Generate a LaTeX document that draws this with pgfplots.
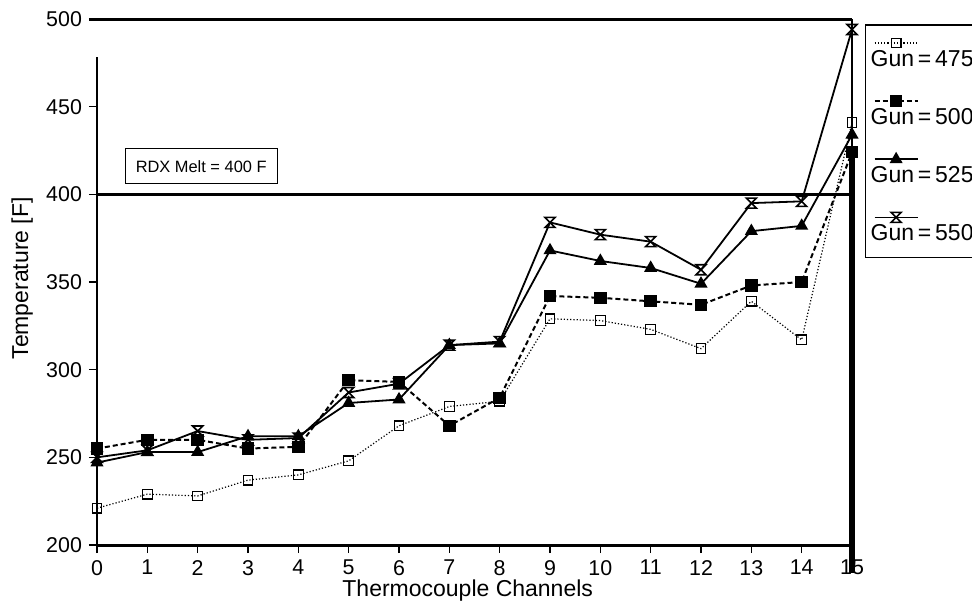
\documentclass[border=0pt]{standalone}
\usepackage{fontspec}
\setmainfont{Liberation Sans}
\usepackage{pgfplots}
\usepackage{pgfplotstable}
\pgfplotsset{compat=1.18}
\usetikzlibrary{calc}

% open hourglass marker (bars top and bottom, crossed sides)
\pgfdeclareplotmark{hourglass}{%
  \pgfpathmoveto{\pgfqpoint{-\pgfplotmarksize}{\pgfplotmarksize}}%
  \pgfpathlineto{\pgfqpoint{\pgfplotmarksize}{\pgfplotmarksize}}%
  \pgfpathlineto{\pgfqpoint{-\pgfplotmarksize}{-\pgfplotmarksize}}%
  \pgfpathlineto{\pgfqpoint{\pgfplotmarksize}{-\pgfplotmarksize}}%
  \pgfpathclose
  \pgfusepathqstroke
}

\pgfplotstableread{
ch g475 g500 g525 g550
0  221 255 247 250
1  229 260 253 254
2  228 260 253 265
3  237 255 262 260
4  240 256 262 261
5  248 294 281 287
6  268 293 283 292
7  279 268 314 314
8  282 284 315 316
9  329 342 368 384
10 328 341 362 377
11 323 339 358 373
12 312 337 349 357
13 339 348 379 395
14 317 350 382 396
15 441 424 434 494
}\temps

\pgfplotsset{
  s475/.style={black, line width=0.6pt, densely dotted, mark=square, mark size=2.4pt,
    mark options={solid, fill=white, line width=0.6pt}},
  s500/.style={black, line width=1pt, dash pattern=on 2.5pt off 1.5pt, mark=square*, mark size=2.6pt,
    mark options={solid}},
  s525/.style={black, line width=0.9pt, mark=triangle*, mark size=2.9pt, mark options={solid}},
  s550/.style={black, line width=0.9pt, mark=hourglass, mark size=2.5pt,
    mark options={solid, line width=0.8pt}},
}

\begin{document}
\begin{tikzpicture}
\begin{axis}[
  scale only axis,
  width=377.5pt, height=263pt,
  xmin=0, xmax=15, ymin=200, ymax=500,
  xtick={0,1,...,15}, ytick={200,250,...,500},
  tick align=outside, tick pos=left,
  major tick length=4pt,
  tick style={black, line width=0.8pt},
  axis line style={draw=none},
  ticklabel style={font=\fontsize{10.7}{13}\selectfont},
  /pgf/number format/assume math mode=true,
  xlabel={Thermocouple Channels},
  ylabel={Temperature [F]},
  label style={font=\fontsize{11.5}{13}\selectfont},
  xlabel style={at={(axis description cs:0.491,-0.0875)}, anchor=center},
  ylabel style={at={(axis description cs:-0.099,0.507)}, anchor=center},
  clip=false,
  legend image code/.code={\draw[mark repeat=2,mark phase=2,#1]
    plot coordinates {(0pt,0pt) (10.75pt,0pt) (21.5pt,0pt)};},
  legend style={at={(axis description cs:1.017,0.99)}, anchor=north west,
    draw=black, line width=0.8pt, font=\fontsize{11.5}{13}\selectfont,
    nodes={inner sep=1pt},
    cells={anchor=base west}, row sep=0pt, inner xsep=4pt, inner ysep=6pt},
]
\addplot[black, line width=1.5pt, forget plot] coordinates {(0,400) (14.95,400)};
\addplot[s475, forget plot] table[x=ch, y=g475] {\temps};
\addplot[s500, forget plot] table[x=ch, y=g500] {\temps};
\addplot[s525, forget plot] table[x=ch, y=g525] {\temps};
\addplot[s550, forget plot] table[x=ch, y=g550] {\temps};

\addlegendimage{s475}\addlegendentry{\rule{0pt}{2pt}}
\addlegendimage{empty legend}\addlegendentry{\hspace*{-25pt}Gun\,=\,475}
\addlegendimage{s500}\addlegendentry{\rule{0pt}{14pt}}
\addlegendimage{empty legend}\addlegendentry{\hspace*{-25pt}Gun\,=\,500}
\addlegendimage{s525}\addlegendentry{\rule{0pt}{14pt}}
\addlegendimage{empty legend}\addlegendentry{\hspace*{-25pt}Gun\,=\,525}
\addlegendimage{s550}\addlegendentry{\rule{0pt}{14pt}}
\addlegendimage{empty legend}\addlegendentry{\hspace*{-25pt}Gun\,=\,550}

\node[draw, line width=0.6pt, minimum width=76pt, minimum height=17.5pt,
  font=\fontsize{8.2}{10}\selectfont] at (axis cs:2.07,416) {RDX Melt = 400 F};
\end{axis}
% frame
\draw[line width=1.5pt] (current axis.south west) -- (current axis.south east);
\draw[line width=1.5pt] ($(current axis.north west)+(-4pt,0)$) -- (current axis.north east);
\draw[line width=1.1pt] (current axis.south west) -- ($(current axis.south west)!0.928!(current axis.north west)$);
\draw[line width=0.8pt] (current axis.north east) -- ($(current axis.south east)!0.7!(current axis.north east)$);
\draw[line width=3pt] ($(current axis.south east)+(0,-14pt)$) -- ($(current axis.south east)!0.75!(current axis.north east)$);
\pgfresetboundingbox
\path ($(current axis.south west)+(-48.5pt,-31pt)$) rectangle ($(current axis.north east)+(60pt,9.5pt)$);
\end{tikzpicture}
\end{document}
